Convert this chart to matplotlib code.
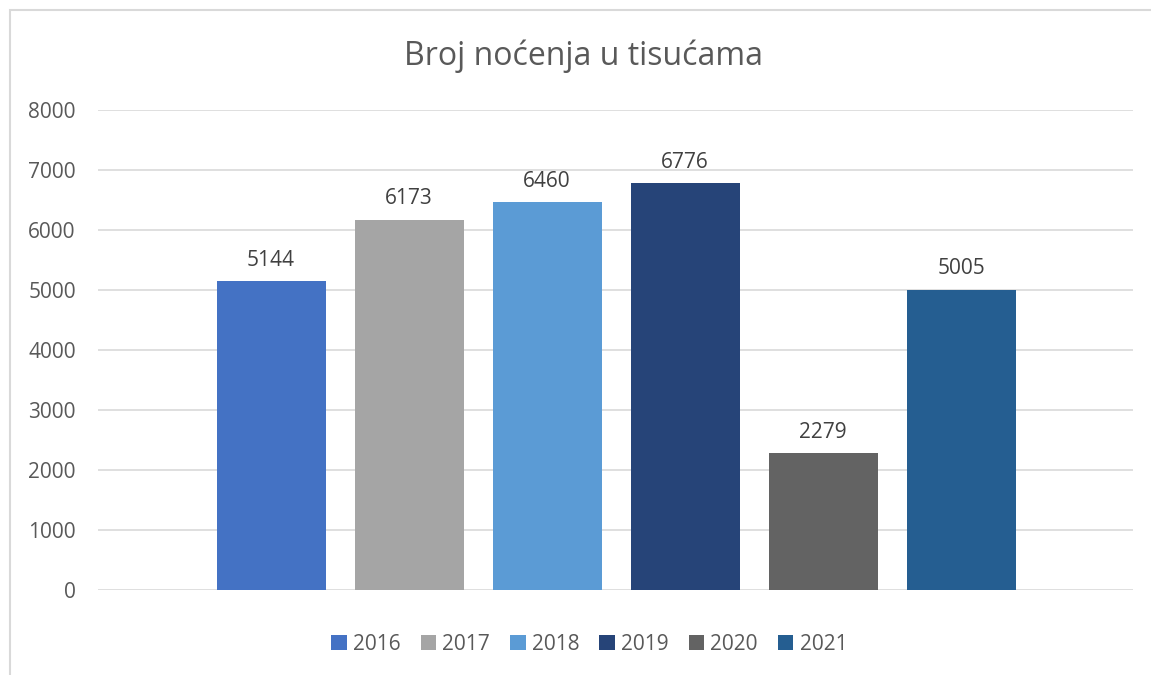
import matplotlib.pyplot as plt
from matplotlib.patches import Rectangle, Patch

years = ["2016", "2017", "2018", "2019", "2020", "2021"]
values = [5144, 6173, 6460, 6776, 2279, 5005]
colors = ["#4472C4", "#A5A5A5", "#5B9BD5", "#264478", "#636363", "#255E91"]

W, H = 1151, 675
fig = plt.figure(figsize=(W / 100, H / 100), dpi=100)
plt.rcParams["font.family"] = ["Open Sans", "DejaVu Sans"]

# chart area border
fig.patches.append(Rectangle((10 / W, -0.1), 1.2, 1 - 10 / H + 0.1, transform=fig.transFigure,
                             fill=False, edgecolor="#D9D9D9", linewidth=1.5))

ax = fig.add_axes([98 / W, 1 - 590 / H, (1133 - 98) / W, (590 - 110) / H])
x = list(range(len(years)))
bars = ax.bar(x, values, width=0.79, color=colors, zorder=3)
for xi, v in zip(x, values):
    ax.text(xi, v + 170, str(v), ha="center", va="bottom", fontsize=15, color="#404040")

ax.set_xlim(-1.254, 6.245)
ax.set_ylim(0, 8000)
ax.set_yticks(range(0, 8001, 1000))
ax.set_xticks([])
ax.grid(axis="y", color="#D9D9D9", linewidth=1.2, zorder=0)
for s in ax.spines.values():
    s.set_visible(False)
ax.tick_params(axis="y", length=0, pad=16, labelsize=15, labelcolor="#595959")

fig.text(0.507, 1 - 56 / H, "Broj noćenja u tisućama", ha="center", va="center",
         fontsize=23, color="#595959")

handles = [Patch(facecolor=c) for c in colors]
fig.legend(handles, years, loc="center", bbox_to_anchor=(0.512, 1 - 644 / H), ncol=6,
           frameon=False, fontsize=15, handlelength=0.75, handleheight=0.75,
           handletextpad=0.3, columnspacing=0.95, labelcolor="#595959")

fig.savefig("out.png", dpi=100, facecolor="white")
